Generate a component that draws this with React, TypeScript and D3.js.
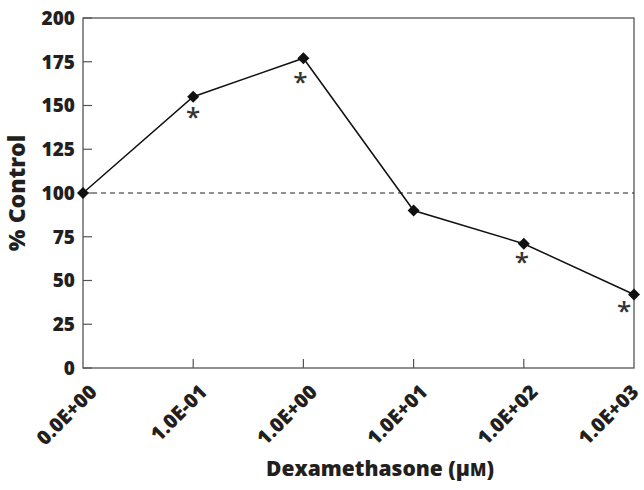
import React from "react";
import * as d3 from "d3";

const categories = ["0.0E+00", "1.0E-01", "1.0E+00", "1.0E+01", "1.0E+02", "1.0E+03"];
const values = [100, 155, 177, 90, 71, 42];
const significant = [false, true, true, false, true, true];
const yTicks = [0, 25, 50, 75, 100, 125, 150, 175, 200];
const controlLevel = 100;

const W = 644;
const H = 490;
const margin = { left: 83, right: 10, top: 18, bottom: 122 };
const FONT = "'Open Sans', Lato, sans-serif";

export default function App() {
  const x = d3
    .scalePoint<string>()
    .domain(categories)
    .range([margin.left, W - margin.right]);
  const y = d3
    .scaleLinear()
    .domain([0, 200])
    .range([H - margin.bottom, margin.top]);

  const pts = categories.map((c, i) => [x(c) as number, y(values[i])] as [number, number]);
  const line = d3.line()(pts) || "";
  const axisColor = "#555";
  const x0 = margin.left;
  const x1 = W - margin.right;
  const y0 = y(0);
  const yTop = y(200);

  const astOff: [number, number][] = [
    [0, 0],
    [0, 18],
    [-3, 21],
    [0, 0],
    [-2, 16],
    [-10, 14],
  ];
  const astSize = 26;
  const tickFs = 20;
  const capShift = 0.707 * 0.72 * tickFs;

  return (
    <svg width={W} height={H} style={{ position: "absolute", left: 0, top: 0 }}>
      <rect x={0} y={0} width={W} height={H} fill="#fff" />
      <rect x={x0} y={yTop} width={x1 - x0} height={y0 - yTop} fill="none" stroke={axisColor} strokeWidth={1.3} />
      {yTicks.map((t) => (
        <g key={t}>
          <line x1={x0} x2={x0 + 9} y1={y(t)} y2={y(t)} stroke={axisColor} strokeWidth={1.2} />
          <text
            x={x0 - 8}
            y={y(t)}
            dy="0.36em"
            textAnchor="end"
            fontFamily={FONT}
            fontWeight={800}
            fontSize={19}
            fill="#231f20"
          >
            {t}
          </text>
        </g>
      ))}
      {categories.map((c, i) => {
        const ax = Math.min((x(c) as number) + 5, W - 4 - capShift);
        return (
          <g key={c}>
            {i > 0 && i < categories.length - 1 && (
              <line x1={x(c)} x2={x(c)} y1={y0} y2={y0 - 9} stroke={axisColor} strokeWidth={1.2} />
            )}
            <text
              transform={`translate(${ax},${y0 + 15}) rotate(-45)`}
              dy="0.72em"
              textAnchor="end"
              fontFamily={FONT}
              fontWeight={800}
              fontSize={tickFs}
              fill="#231f20"
            >
              {c}
            </text>
          </g>
        );
      })}
      <line
        x1={x0}
        x2={x1}
        y1={y(controlLevel)}
        y2={y(controlLevel)}
        stroke="#222"
        strokeWidth={1.2}
        strokeDasharray="5,4"
      />
      <path d={line} fill="none" stroke="#111" strokeWidth={1.5} />
      {pts.map(([px, py], i) => (
        <path
          key={i}
          d={`M${px},${py - 6}L${px + 6},${py}L${px},${py + 6}L${px - 6},${py}Z`}
          fill="#111"
        />
      ))}
      {pts.map(([px, py], i) =>
        significant[i] ? (
          <text
            key={"a" + i}
            x={px + astOff[i][0]}
            y={py + astOff[i][1] + astSize * 0.6 - 4}
            textAnchor="middle"
            fontFamily={FONT}
            fontWeight={600}
            fontSize={astSize}
            fill="#333"
          >
            *
          </text>
        ) : null
      )}
      <text
        transform={`translate(25,${y(100)}) rotate(-90)`}
        textAnchor="middle"
        fontFamily={FONT}
        fontWeight={800}
        fontSize={23}
        fill="#231f20"
      >
        % Control
      </text>
      <text
        x={380}
        y={476}
        textAnchor="middle"
        fontFamily={FONT}
        fontWeight={800}
        fontSize={21}
        fill="#231f20"
      >
        Dexamethasone (μ<tspan fontSize={17}>M</tspan>)
      </text>
    </svg>
  );
}
